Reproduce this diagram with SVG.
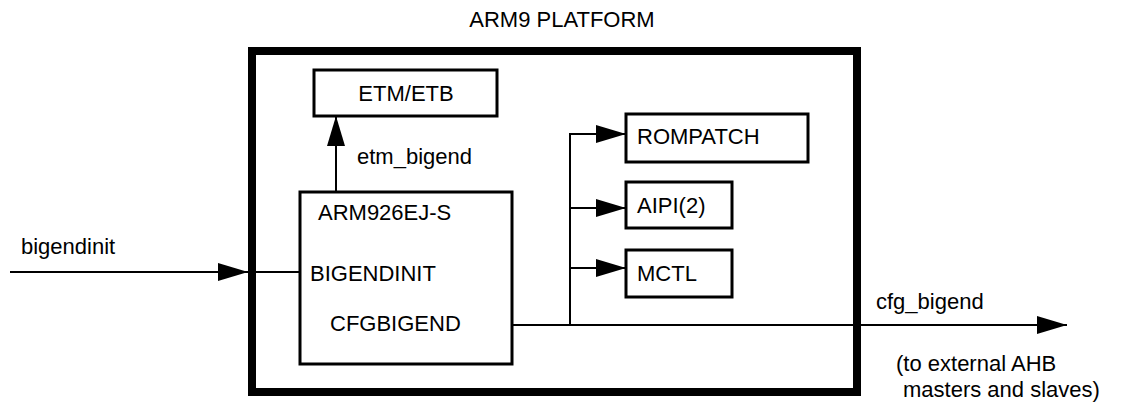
<svg xmlns="http://www.w3.org/2000/svg" width="1121" height="406" viewBox="0 0 1121 406">
<style>
text{font-family:"Liberation Sans",Arial,sans-serif;font-size:22px;fill:#000}
.box{fill:#fff;stroke:#000;stroke-width:3}
.ln{fill:none;stroke:#000;stroke-width:2}
</style>
<defs>
<marker id="ah" markerUnits="userSpaceOnUse" markerWidth="30" markerHeight="18" refX="30" refY="9" orient="auto">
<path d="M0,0 L30,9 L0,18 Z" fill="#000"/>
</marker>
</defs>
<rect width="1121" height="406" fill="#fff"/>
<text x="562" y="27" text-anchor="middle">ARM9 PLATFORM</text>
<g id="platform"><rect x="252" y="51" width="605" height="341" fill="none" stroke="#000" stroke-width="8"/></g>
<g id="connectors">
<line class="ln" x1="10" y1="272" x2="248" y2="272" marker-end="url(#ah)"/>
<line class="ln" x1="248" y1="272" x2="300" y2="272"/>
<line class="ln" x1="336" y1="192" x2="336" y2="116" marker-end="url(#ah)"/>
<line class="ln" x1="512" y1="325" x2="1067" y2="325" marker-end="url(#ah)"/>
<polyline class="ln" points="570,325 570,134 626,134" marker-end="url(#ah)"/>
<line class="ln" x1="570" y1="208" x2="626" y2="208" marker-end="url(#ah)"/>
<line class="ln" x1="570" y1="268" x2="626" y2="268" marker-end="url(#ah)"/>
</g>
<g id="etm"><rect class="box" x="314" y="70" width="183" height="46"/><text x="406" y="101" text-anchor="middle">ETM/ETB</text></g>
<g id="arm"><rect class="box" x="300" y="192" width="212" height="172"/>
<text x="318" y="220">ARM926EJ-S</text><text x="310" y="281">BIGENDINIT</text><text x="330" y="331">CFGBIGEND</text></g>
<g id="rompatch"><rect class="box" x="626" y="114" width="182" height="48"/><text x="637" y="144">ROMPATCH</text></g>
<g id="aipi"><rect class="box" x="626" y="182" width="106" height="46"/><text x="637" y="213">AIPI(2)</text></g>
<g id="mctl"><rect class="box" x="626" y="250" width="106" height="47"/><text x="637" y="281">MCTL</text></g>
<g id="labels">
<text x="21" y="254">bigendinit</text>
<text x="357" y="164">etm_bigend</text>
<text x="876" y="309">cfg_bigend</text>
<text x="896" y="371">(to external AHB</text>
<text x="903" y="397">masters and slaves)</text>
</g>
</svg>
